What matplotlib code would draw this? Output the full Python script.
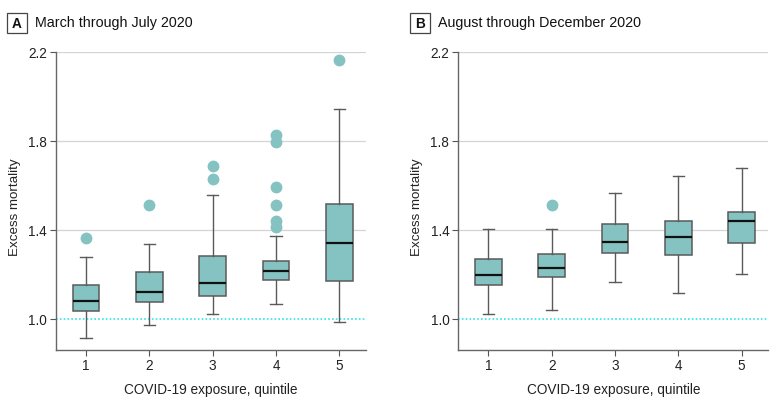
import matplotlib
matplotlib.use("Agg")
import matplotlib.pyplot as plt
from matplotlib.patches import Rectangle

plt.rcParams['font.family'] = ['Liberation Sans', 'DejaVu Sans']

quintiles = [1, 2, 3, 4, 5]

# Panel A: March through July 2020
a_whislo = [0.915, 0.974, 1.024, 1.069, 0.988]
a_q1     = [1.036, 1.079, 1.106, 1.175, 1.171]
a_med    = [1.082, 1.124, 1.162, 1.217, 1.344]
a_q3     = [1.153, 1.211, 1.286, 1.261, 1.517]
a_whishi = [1.280, 1.337, 1.557, 1.376, 1.945]
a_fliers = [[1.365], [1.512], [1.628, 1.688], [1.416, 1.442, 1.514, 1.596, 1.795, 1.827], [2.166]]

# Panel B: August through December 2020
b_whislo = [1.024, 1.040, 1.168, 1.117, 1.202]
b_q1     = [1.156, 1.190, 1.296, 1.288, 1.342]
b_med    = [1.200, 1.231, 1.349, 1.371, 1.440]
b_q3     = [1.270, 1.292, 1.428, 1.440, 1.481]
b_whishi = [1.404, 1.404, 1.566, 1.644, 1.677]
b_fliers = [[], [1.512], [], [], []]

yticks = [1.0, 1.4, 1.8, 2.2]
titles = ["March through July 2020", "August through December 2020"]
letters = ["A", "B"]

teal = "#84c3c1"
edge = "#5a5a5a"

fig = plt.figure(figsize=(7.8, 4.05), dpi=100)
axA = fig.add_axes([56/780, 55/405, 310/780, 298/405])
axB = fig.add_axes([458.3/780, 55/405, 310/780, 298/405])

panels = [
    (axA, a_whislo, a_q1, a_med, a_q3, a_whishi, a_fliers),
    (axB, b_whislo, b_q1, b_med, b_q3, b_whishi, b_fliers),
]

for i, (ax, wl, q1, med, q3, wh, fl) in enumerate(panels):
    stats = []
    for k in range(len(quintiles)):
        stats.append(dict(whislo=wl[k], q1=q1[k], med=med[k], q3=q3[k],
                          whishi=wh[k], fliers=fl[k], label=str(quintiles[k])))
    ax.bxp(stats, positions=quintiles, widths=0.42, patch_artist=True,
           showfliers=True, capwidths=0.18,
           boxprops=dict(facecolor=teal, edgecolor=edge, linewidth=1.1),
           medianprops=dict(color="#111111", linewidth=1.6),
           whiskerprops=dict(color=edge, linewidth=1.0),
           capprops=dict(color=edge, linewidth=1.0),
           flierprops=dict(marker='o', markerfacecolor=teal, markeredgecolor=teal,
                           markersize=7.5, linestyle='none'))
    ax.set_xlim(0.526, 5.42)
    ax.set_ylim(0.862, 2.2)
    ax.set_yticks(yticks)
    ax.set_yticklabels([f"{v:.1f}" for v in yticks])
    for v in yticks[1:]:
        ax.axhline(v, color="#d4d4d4", linewidth=0.9, zorder=0)
    ax.axhline(1.0, color="#2ee3ea", linewidth=1.2, linestyle=(0, (1, 1.3)), zorder=0)
    for s in ['top', 'right']:
        ax.spines[s].set_visible(False)
    for s in ['left', 'bottom']:
        ax.spines[s].set_color("#666666")
        ax.spines[s].set_linewidth(1.0)
    ax.tick_params(axis='both', colors="#555555", labelcolor="#222222",
                   labelsize=9.8, length=4, width=0.8, pad=2.5)
    ax.set_xlabel("COVID-19 exposure, quintile", fontsize=9.8, color="#222222", labelpad=7)
    ax.set_ylabel("Excess mortality", fontsize=9.6, color="#222222")
    ax.yaxis.set_label_coords(-35/310, 0.48)

# panel labels
for x0, letter, title in [(7, "A", titles[0]), (410, "B", titles[1])]:
    fig.patches.append(Rectangle((x0/780, (405-33)/405), 20/780, 20/405,
                                 transform=fig.transFigure, fill=False,
                                 edgecolor="#444444", linewidth=0.9))
    fig.text((x0+10)/780, (405-23.5)/405, letter, ha='center', va='center',
             fontsize=9.8, fontweight='bold', color="#111111")
    fig.text((x0+28)/780, (405-23.5)/405, title, ha='left', va='center',
             fontsize=10.3, color="#111111")

fig.savefig("out.png", dpi=100)
